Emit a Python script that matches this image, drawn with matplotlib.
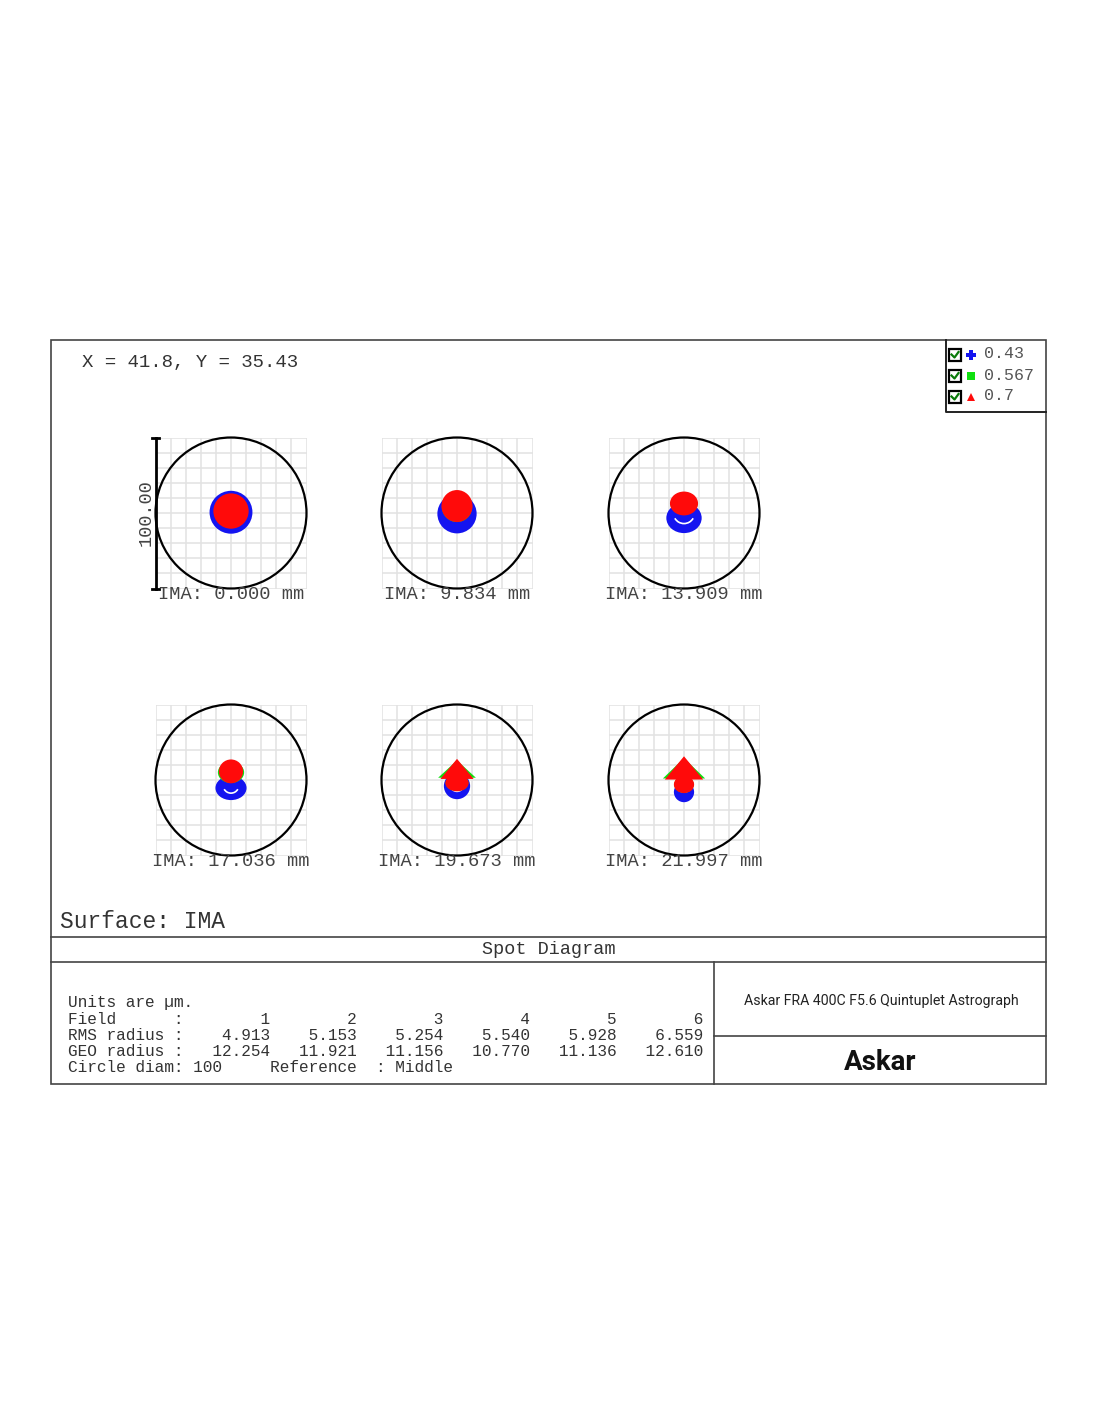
import numpy as np
import matplotlib
matplotlib.use("Agg")
from matplotlib import pyplot as plt
from matplotlib.patches import Ellipse, Circle, Polygon, Arc, Rectangle

# ---- data ----
FIELDS = [1, 2, 3, 4, 5, 6]
IMA_MM = [0.000, 9.834, 13.909, 17.036, 19.673, 21.997]
RMS_RADIUS = [4.913, 5.153, 5.254, 5.540, 5.928, 6.559]
GEO_RADIUS = [12.254, 11.921, 11.156, 10.770, 11.136, 12.610]
WAVELENGTHS = ["0.43", "0.567", "0.7"]
CIRCLE_DIAM = 100
FIELD_X, FIELD_Y = 41.8, 35.43

# spot outlines per field, estimated in um (y up, relative to chief ray)
BLUE_CY = [0.5, -0.5, -3.3, -5.3, -4.0, -8.0]
BLUE_RX = [14.2, 13.0, 11.7, 10.3, 8.7, 6.7]
BLUE_RY = [14.2, 13.0, 10.0, 8.0, 8.7, 6.7]
BLUE_ARC_R = [0.0, 0.0, 7.0, 5.2, 4.5, 4.5]
BLUE_ARC_CY = [0.0, 0.0, 0.0, -3.5, -3.0, -3.5]

GREEN_CY = [1.0, 4.0, 6.0, 5.0, -2.0, -3.0]
GREEN_RX = [11.0, 10.0, 9.0, 8.7, 7.5, 6.5]
GREEN_RY = [11.0, 10.0, 7.0, 7.0, 5.3, 5.5]
GREEN_HEAD_TIP = [None, None, None, None, 13.0, 14.5]
GREEN_HEAD_BASE = [None, None, None, None, 1.5, 1.0]
GREEN_HEAD_HW = [None, None, None, None, 12.5, 14.0]

RED_CY = [1.3, 4.6, 6.3, 5.7, -2.0, -3.0]
RED_RX = [11.7, 10.3, 9.3, 8.0, 7.7, 6.7]
RED_RY = [11.7, 10.6, 7.9, 7.9, 5.5, 5.7]
RED_HEAD_TIP = [None, None, None, None, 14.0, 15.7]
RED_HEAD_BASE = [None, None, None, None, 0.7, 0.3]
RED_HEAD_HW = [None, None, None, None, 11.0, 12.7]

BLUE, GREEN, RED = "#1414f0", "#10e010", "#ff0a0a"
MONO = "Liberation Mono"
TXT = "#333333"
W, H = 1100, 1422

fig = plt.figure(figsize=(W / 100, H / 100), dpi=100)
bg = fig.add_axes([0, 0, 1, 1])
bg.set_xlim(0, W)
bg.set_ylim(H, 0)
bg.axis("off")

# frame
lc = "#444444"
bg.add_patch(Rectangle((51, 340), 995, 744, fill=False, ec=lc, lw=1.2))
bg.plot([51, 1046], [937, 937], color=lc, lw=1.2)
bg.plot([51, 1046], [962, 962], color=lc, lw=1.2)
bg.plot([714, 714], [962, 1084], color=lc, lw=1.2)
bg.plot([714, 1046], [1036, 1036], color=lc, lw=1.2)
bg.plot([946, 946, 1046], [340, 412, 412], color="#222222", lw=1.4)

bg.text(82, 362, f"X = {FIELD_X}, Y = {FIELD_Y}", family=MONO, fontsize=13.7,
        color=TXT, va="center")
bg.text(60, 922, "Surface: IMA", family=MONO, fontsize=16.5, color=TXT, va="center")
bg.text(549, 950, "Spot Diagram", family=MONO, fontsize=13.3, color=TXT,
        ha="center", va="center")

# legend
for k, (lab, col, mk) in enumerate(zip(WAVELENGTHS, [BLUE, GREEN, RED], ["P", "s", "^"])):
    y = 355 + 21 * k
    bg.plot(955, y, marker="s", ms=8, mfc="white", mec="black", mew=1.6)
    bg.plot([951.5, 954.5, 958.5], [y - 0.5, y + 2.5, y - 3], color="#0a7a0a", lw=1.6)
    bg.plot(971, y, marker=mk, ms=6 if mk != "P" else 6.5, color=col, mew=0)
    bg.text(984, y - 1, lab, family=MONO, fontsize=12, color="#555555", va="center")

# table
rows = ["Units are \u00b5m.",
        "Field      :" + "".join(f"{f:9d}" for f in FIELDS),
        "RMS radius :" + "".join(f"{v:9.3f}" for v in RMS_RADIUS),
        "GEO radius :" + "".join(f"{v:9.3f}" for v in GEO_RADIUS),
        f"Circle diam: {CIRCLE_DIAM}     Reference  : Middle"]
for k, r in enumerate(rows):
    bg.text(68, 1003 + 16 * k, r, family=MONO, fontsize=11.6, color=TXT, va="center")

bg.text(881, 1001, "Askar FRA 400C F5.6 Quintuplet Astrograph",
        family=["Liberation Sans Narrow", "Roboto"], fontsize=10.2, color="#222222",
        ha="center", va="center")
bg.text(880, 1062, "Askar", family="Roboto", fontweight="bold", fontsize=20,
        color="#111111", ha="center", va="center")

# spot diagrams
centers = [(231, 513), (457, 513), (684, 513), (231, 780), (457, 780), (684, 780)]
half = 75.5
R = CIRCLE_DIAM / 2


def head(tip, base, hw):
    return [(-hw, base), (0, tip), (hw, base)]


for i, (cx, cy) in enumerate(centers):
    ax = fig.add_axes([(cx - half) / W, 1 - (cy + half) / H, 2 * half / W, 2 * half / H])
    ax.set_xlim(-R, R)
    ax.set_ylim(-R, R)
    ax.set_xticks(np.arange(-R, R + 1, 10))
    ax.set_yticks(np.arange(-R, R + 1, 10))
    ax.set_axisbelow(True)
    ax.grid(True, color="#e2e2e2", lw=1.1)
    ax.tick_params(length=0, labelbottom=False, labelleft=False)
    for s in ax.spines.values():
        s.set_visible(False)
    ax.patch.set_alpha(0)

    ax.add_patch(Ellipse((0, BLUE_CY[i]), 2 * BLUE_RX[i], 2 * BLUE_RY[i], color=BLUE, lw=0))
    if BLUE_ARC_R[i] > 0:
        ax.add_patch(Arc((0, BLUE_ARC_CY[i]), 2 * BLUE_ARC_R[i], 2 * BLUE_ARC_R[i],
                         theta1=210, theta2=330, color="white", lw=1.2))
    ax.add_patch(Ellipse((0, GREEN_CY[i]), 2 * GREEN_RX[i], 2 * GREEN_RY[i], color=GREEN, lw=0))
    if GREEN_HEAD_TIP[i] is not None:
        ax.add_patch(Polygon(head(GREEN_HEAD_TIP[i], GREEN_HEAD_BASE[i], GREEN_HEAD_HW[i]),
                             color=GREEN, lw=0))
    ax.add_patch(Ellipse((0, RED_CY[i]), 2 * RED_RX[i], 2 * RED_RY[i], color=RED, lw=0))
    if RED_HEAD_TIP[i] is not None:
        ax.add_patch(Polygon(head(RED_HEAD_TIP[i], RED_HEAD_BASE[i], RED_HEAD_HW[i]),
                             color=RED, lw=0))

    ax.add_patch(Circle((0, 0), R, fill=False, ec="black", lw=1.6, clip_on=False))
    ax.text(0, -R - 4, f"IMA: {IMA_MM[i]:.3f} mm", family=MONO, fontsize=13.5,
            color="#444444", ha="center", va="center", clip_on=False)

    if i == 0:
        ax.plot([-R, -R], [-R, R], color="black", lw=2, clip_on=False)
        ax.plot([-R - 2, -R + 2], [R, R], color="black", lw=2, clip_on=False)
        ax.plot([-R - 2, -R + 2], [-R, -R], color="black", lw=2, clip_on=False)
        ax.text(-R - 6, 0, f"{CIRCLE_DIAM:.2f}", family=MONO, fontsize=13.4,
                color="#444444", rotation=90, ha="center", va="center", clip_on=False)

fig.savefig("out.png", dpi=100, facecolor="white")
